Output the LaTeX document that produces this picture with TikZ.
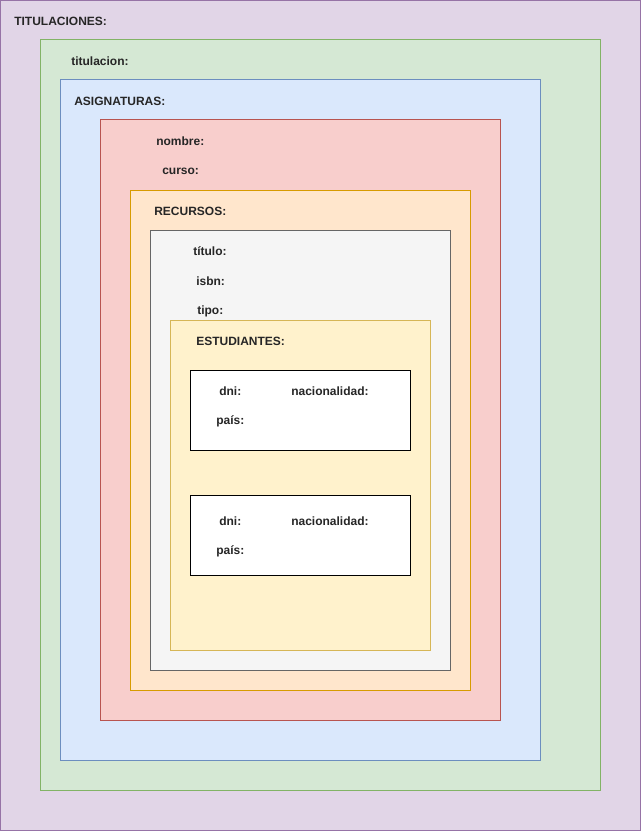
\documentclass[tikz,border=0pt]{standalone}
\usepackage{fontspec}
\setmainfont{Liberation Sans}
\definecolor{purplefill}{HTML}{E1D5E7}\definecolor{purpleline}{HTML}{9673A6}
\definecolor{greenfill}{HTML}{D5E8D4}\definecolor{greenline}{HTML}{82B366}
\definecolor{bluefill}{HTML}{DAE8FC}\definecolor{blueline}{HTML}{6C8EBF}
\definecolor{redfill}{HTML}{F8CECC}\definecolor{redline}{HTML}{B85450}
\definecolor{orangefill}{HTML}{FFE6CC}\definecolor{orangeline}{HTML}{D79B00}
\definecolor{grayfill}{HTML}{F5F5F5}\definecolor{grayline}{HTML}{666666}
\definecolor{yellowfill}{HTML}{FFF2CC}\definecolor{yellowline}{HTML}{D6B656}
\tikzset{
  campo/.style={anchor=west,inner sep=0pt,yshift=-0.75pt,font=\fontsize{9}{11}\selectfont\bfseries,text=black!85},
  caja/.style={line width=0.75pt}
}
\begin{document}
\begin{tikzpicture}[x=0.75pt,y=-0.75pt]
                \useasboundingbox (0,0) rectangle (641,831);
                \draw[caja,purpleline,fill=purplefill] (0.5,0.5) rectangle (640,830);
                \draw[caja,greenline,fill=greenfill] (40,40) rectangle (600,790);
                \draw[caja,blueline,fill=bluefill] (60,80) rectangle (540,760);
                \draw[caja,redline,fill=redfill] (100,120) rectangle (500,720);
                \draw[caja,orangeline,fill=orangefill] (130,190) rectangle (470,690);
                \draw[caja,grayline,fill=grayfill] (150,230) rectangle (450,670);
                \draw[caja,yellowline,fill=yellowfill] (170,320) rectangle (430,650);
                \draw[caja,black,fill=white] (190,370) rectangle (410,450);
                \draw[caja,black,fill=white] (190,495) rectangle (410,575);
                % textos
                \node[campo] (titulaciones) at (14,20) {TITULACIONES:};
                \node[campo] (titulacion) at (71,60) {titulacion:};
                \node[campo] (asignaturas) at (74,100) {ASIGNATURAS:};
                \node[campo] (nombre) at (156,140) {nombre:};
                \node[campo] (curso) at (162,170) {curso:};
                \node[campo] (recursos) at (154,210) {RECURSOS:};
                \node[campo] (titulo) at (193,250) {título:};
                \node[campo] (isbn) at (196,280) {isbn:};
                \node[campo] (tipo) at (197,310) {tipo:};
                \node[campo] (estudiantes) at (196,340) {ESTUDIANTES:};
                \foreach \y/\n in {390/a,520/b}{
                    \node[campo] (dni\n) at (219,\y) {dni:};
                    \node[campo] (nac\n) at (291,\y) {nacionalidad:};
                    \node[campo] (pais\n) at (216,\y+30) {país:};
                }
            \end{tikzpicture}
\end{document}
